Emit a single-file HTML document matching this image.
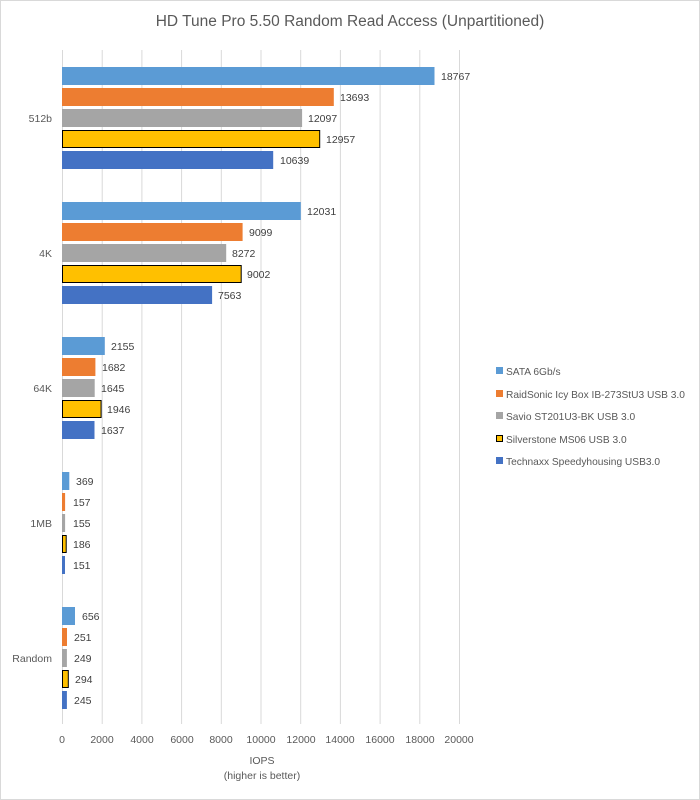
<!DOCTYPE html>
<html><head><meta charset="utf-8"><style>
html,body{margin:0;padding:0;background:#fff;}
svg{display:block;font-family:"Liberation Sans",sans-serif;}
</style></head><body>
<svg width="700" height="800" viewBox="0 0 700 800" xmlns="http://www.w3.org/2000/svg">
<rect x="0.5" y="0.5" width="699" height="799" fill="#fff" stroke="#d9d9d9"/>
<text x="350" y="26" font-size="15.5" fill="#595959" text-anchor="middle">HD Tune Pro 5.50 Random Read Access (Unpartitioned)</text>
<g stroke="#d9d9d9" stroke-width="1">
<line x1="62.5" y1="50" x2="62.5" y2="724"/>
<line x1="102.2" y1="50" x2="102.2" y2="724"/>
<line x1="141.9" y1="50" x2="141.9" y2="724"/>
<line x1="181.6" y1="50" x2="181.6" y2="724"/>
<line x1="221.3" y1="50" x2="221.3" y2="724"/>
<line x1="261" y1="50" x2="261" y2="724"/>
<line x1="300.7" y1="50" x2="300.7" y2="724"/>
<line x1="340.4" y1="50" x2="340.4" y2="724"/>
<line x1="380.1" y1="50" x2="380.1" y2="724"/>
<line x1="419.8" y1="50" x2="419.8" y2="724"/>
<line x1="459.5" y1="50" x2="459.5" y2="724"/>
</g>
<g font-size="10.5" fill="#595959" text-anchor="middle">
<text x="62" y="743">0</text><text x="102" y="743">2000</text><text x="142" y="743">4000</text><text x="182" y="743">6000</text><text x="221" y="743">8000</text><text x="261" y="743">10000</text><text x="301" y="743">12000</text><text x="340" y="743">14000</text><text x="380" y="743">16000</text><text x="420" y="743">18000</text><text x="459" y="743">20000</text>
<text x="262" y="764">IOPS</text><text x="262" y="779">(higher is better)</text>
</g>
<g font-size="10.5" fill="#595959" text-anchor="end">
<text x="52" y="122">512b</text><text x="52" y="257">4K</text><text x="52" y="392">64K</text><text x="52" y="527">1MB</text><text x="52" y="662">Random</text>
</g>
<rect x="62" y="67" width="372.5" height="18" fill="#5B9BD5"/>
<rect x="62" y="88" width="271.8" height="18" fill="#ED7D31"/>
<rect x="62" y="109" width="240.1" height="18" fill="#A5A5A5"/>
<rect x="62.5" y="130.5" width="257.2" height="17" fill="#FFC000" stroke="#000"/>
<rect x="62" y="151" width="211.2" height="18" fill="#4472C4"/>
<rect x="62" y="202" width="238.8" height="18" fill="#5B9BD5"/>
<rect x="62" y="223" width="180.6" height="18" fill="#ED7D31"/>
<rect x="62" y="244" width="164.2" height="18" fill="#A5A5A5"/>
<rect x="62.5" y="265.5" width="178.7" height="17" fill="#FFC000" stroke="#000"/>
<rect x="62" y="286" width="150.1" height="18" fill="#4472C4"/>
<rect x="62" y="337" width="42.8" height="18" fill="#5B9BD5"/>
<rect x="62" y="358" width="33.4" height="18" fill="#ED7D31"/>
<rect x="62" y="379" width="32.7" height="18" fill="#A5A5A5"/>
<rect x="62.5" y="400.5" width="38.6" height="17" fill="#FFC000" stroke="#000"/>
<rect x="62" y="421" width="32.5" height="18" fill="#4472C4"/>
<rect x="62" y="472" width="7.3" height="18" fill="#5B9BD5"/>
<rect x="62" y="493" width="3.1" height="18" fill="#ED7D31"/>
<rect x="62" y="514" width="3.1" height="18" fill="#A5A5A5"/>
<rect x="62.5" y="535.5" width="3.7" height="17" fill="#FFC000" stroke="#000"/>
<rect x="62" y="556" width="3" height="18" fill="#4472C4"/>
<rect x="62" y="607" width="13" height="18" fill="#5B9BD5"/>
<rect x="62" y="628" width="5" height="18" fill="#ED7D31"/>
<rect x="62" y="649" width="4.9" height="18" fill="#A5A5A5"/>
<rect x="62.5" y="670.5" width="5.8" height="17" fill="#FFC000" stroke="#000"/>
<rect x="62" y="691" width="4.9" height="18" fill="#4472C4"/>
<g font-size="10.5" fill="#404040">
<text x="441" y="80">18767</text><text x="340" y="101">13693</text><text x="308" y="122">12097</text><text x="326" y="143">12957</text><text x="280" y="164">10639</text>
<text x="307" y="215">12031</text><text x="249" y="236">9099</text><text x="232" y="257">8272</text><text x="247" y="278">9002</text><text x="218" y="299">7563</text>
<text x="111" y="350">2155</text><text x="102" y="371">1682</text><text x="101" y="392">1645</text><text x="107" y="413">1946</text><text x="101" y="434">1637</text>
<text x="76" y="485">369</text><text x="73" y="506">157</text><text x="73" y="527">155</text><text x="73" y="548">186</text><text x="73" y="569">151</text>
<text x="82" y="620">656</text><text x="74" y="641">251</text><text x="74" y="662">249</text><text x="75" y="683">294</text><text x="74" y="704">245</text>
</g>
<g font-size="10.2" fill="#595959">
<rect x="496" y="367" width="7" height="7" fill="#5B9BD5"/><text x="506" y="375">SATA 6Gb/s</text>
<rect x="496" y="390" width="7" height="7" fill="#ED7D31"/><text x="506" y="398">RaidSonic Icy Box IB-273StU3 USB 3.0</text>
<rect x="496" y="412" width="7" height="7" fill="#A5A5A5"/><text x="506" y="420">Savio ST201U3-BK USB 3.0</text>
<rect x="496.5" y="435.5" width="6" height="6" fill="#FFC000" stroke="#000"/><text x="506" y="443">Silverstone MS06 USB 3.0</text>
<rect x="496" y="457" width="7" height="7" fill="#4472C4"/><text x="506" y="465">Technaxx Speedyhousing USB3.0</text>
</g>
</svg>
</body></html>
